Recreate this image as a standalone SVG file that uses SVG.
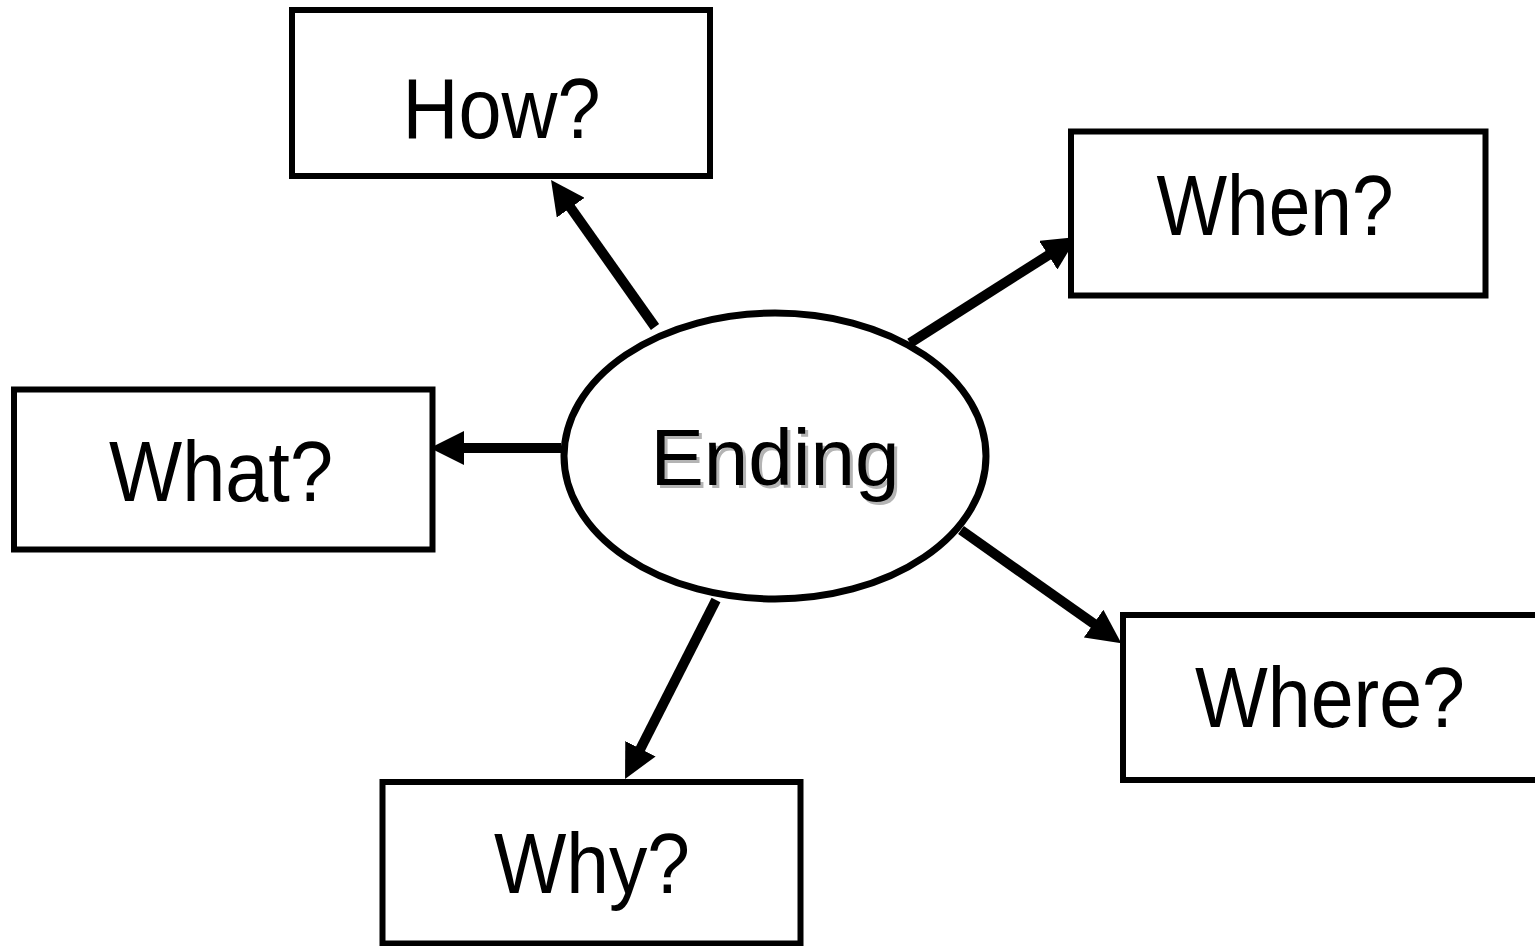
<svg xmlns="http://www.w3.org/2000/svg" width="1535" height="946" viewBox="0 0 1535 946">
<style>
.box{fill:#fff;stroke:#000;stroke-width:6}
.lbl{font-family:"Liberation Sans",Arial,sans-serif;font-size:85px;fill:#000;text-anchor:middle}
.ctr{font-family:"Liberation Sans",Arial,sans-serif;font-size:80px;text-anchor:middle}
.conn{stroke:#000;stroke-width:10;fill:none;marker-end:url(#ah)}
</style>
<defs>
<marker id="ah" markerUnits="userSpaceOnUse" markerWidth="34" markerHeight="34" refX="14" refY="17" orient="auto" viewBox="0 0 34 34">
<path d="M0,0 L34,17 L0,34 Z" fill="#000"/>
</marker>
</defs>
<rect width="1535" height="946" fill="#fff"/>
<g id="connectors">
<line class="conn" x1="655" y1="327" x2="562.6" y2="196.3"/>
<line class="conn" x1="910" y1="343" x2="1060.1" y2="247.7"/>
<line class="conn" x1="961" y1="530" x2="1105" y2="631.7"/>
<line class="conn" x1="716" y1="600" x2="634.1" y2="761.2"/>
<line class="conn" x1="561" y1="448" x2="450" y2="448"/>
</g>
<g id="ending">
<ellipse cx="775" cy="456" rx="211" ry="143" fill="#fff" stroke="#000" stroke-width="7"/>
<text class="ctr" x="778" y="488" fill="#b4b4b4" textLength="249" lengthAdjust="spacingAndGlyphs">Ending</text>
<text class="ctr" x="775" y="485" fill="#000" textLength="249" lengthAdjust="spacingAndGlyphs">Ending</text>
</g>
<g id="how">
<rect class="box" x="292" y="10" width="418" height="166"/>
<text class="lbl" x="501.5" y="138.3" textLength="198" lengthAdjust="spacingAndGlyphs">How?</text>
</g>
<g id="when">
<rect class="box" x="1071" y="131.5" width="414.5" height="164"/>
<text class="lbl" x="1275" y="235" textLength="237" lengthAdjust="spacingAndGlyphs">When?</text>
</g>
<g id="what">
<rect class="box" x="14" y="389.5" width="418.5" height="160"/>
<text class="lbl" x="221" y="500.7" textLength="224" lengthAdjust="spacingAndGlyphs">What?</text>
</g>
<g id="where">
<rect class="box" x="1123" y="615" width="418" height="165"/>
<text class="lbl" x="1330" y="726.7" textLength="270" lengthAdjust="spacingAndGlyphs">Where?</text>
</g>
<g id="why">
<rect class="box" x="382.5" y="782" width="418" height="161.5"/>
<text class="lbl" x="592" y="892.7" textLength="196" lengthAdjust="spacingAndGlyphs">Why?</text>
</g>
</svg>
